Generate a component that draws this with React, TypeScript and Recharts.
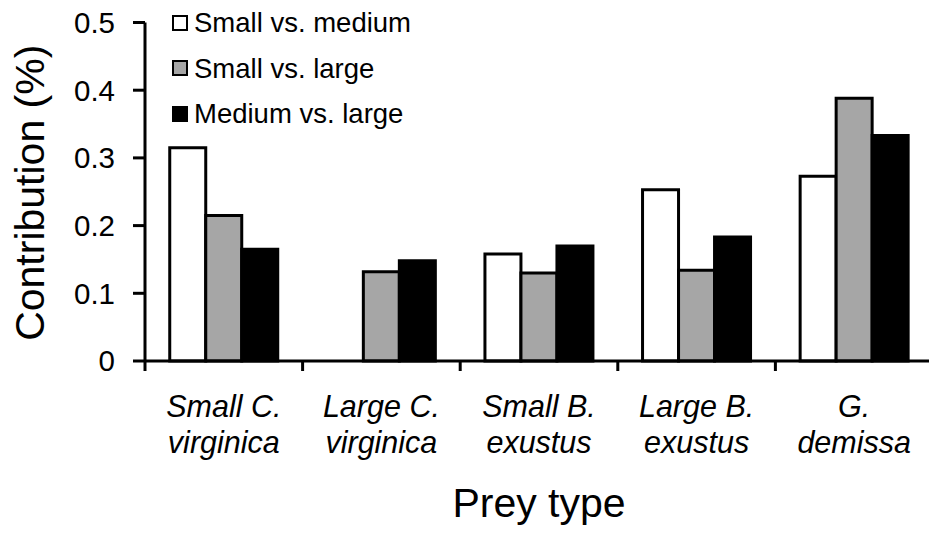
import React from "react";
import { BarChart, Bar, XAxis, YAxis, Legend, Label } from "recharts";

// Prey categories (line break marks the two-line tick label)
const preyTypes = [
  "Small C.\nvirginica",
  "Large C.\nvirginica",
  "Small B.\nexustus",
  "Large B.\nexustus",
  "G.\ndemissa",
];

const smallVsMedium = [0.315, null, 0.158, 0.253, 0.273];
const smallVsLarge = [0.215, 0.132, 0.13, 0.134, 0.388];
const mediumVsLarge = [0.165, 0.148, 0.17, 0.183, 0.333];

const yTicks = [0, 0.1, 0.2, 0.3, 0.4, 0.5];

const series = [
  { key: "sm", name: "Small vs. medium", fill: "#ffffff" },
  { key: "sl", name: "Small vs. large", fill: "#a6a6a6" },
  { key: "ml", name: "Medium vs. large", fill: "#000000" },
];

const data = preyTypes.map((prey, i) => ({
  prey,
  sm: smallVsMedium[i],
  sl: smallVsLarge[i],
  ml: mediumVsLarge[i],
}));

const FONT = '"Liberation Sans", Arial, sans-serif';
const WIDTH = 933;
const HEIGHT = 535;
const Y_AXIS_W = 145;
const X_AXIS_H = 174;
const TOP = 22.5;
const PLOT_W = WIDTH - Y_AXIS_W;
const BAND = PLOT_W / preyTypes.length;

// Category label in two lines, plus tick marks on the category boundaries
function PreyTick(props: any) {
  const { x, y, payload, index } = props;
  const lines = String(payload.value).split("\n");
  const left = x - BAND / 2;
  const right = x + BAND / 2;
  return (
    <g>
      <line x1={left} x2={left} y1={y} y2={y + 10} stroke="#000" strokeWidth={3} />
      {index === preyTypes.length - 1 && (
        <line x1={right} x2={right} y1={y} y2={y + 10} stroke="#000" strokeWidth={3} />
      )}
      <text
        x={x}
        y={y}
        textAnchor="middle"
        fill="#000"
        fontSize={30.5}
        fontStyle="italic"
        fontFamily={FONT}
      >
        {lines.map((ln, i) => (
          <tspan key={i} x={x} dy={i === 0 ? 56 : 36}>
            {ln}
          </tspan>
        ))}
      </text>
    </g>
  );
}

function YTitle(props: any) {
  const { viewBox } = props;
  const cy = viewBox.y + viewBox.height / 2 + 1;
  return (
    <text
      x={30}
      y={cy}
      transform={`rotate(-90 30 ${cy})`}
      textAnchor="middle"
      dominantBaseline="central"
      fontSize={41}
      fontFamily={FONT}
      fill="#000"
    >
      Contribution (%)
    </text>
  );
}

function XTitle(props: any) {
  const { viewBox } = props;
  return (
    <text
      x={viewBox.x + viewBox.width / 2}
      y={517}
      textAnchor="middle"
      fontSize={41}
      fontFamily={FONT}
      fill="#000"
    >
      Prey type
    </text>
  );
}

function LegendBox() {
  return (
    <div style={{ fontFamily: FONT }}>
      {series.map((s) => (
        <div
          key={s.key}
          style={{ display: "flex", alignItems: "center", height: 45.5 }}
        >
          <div
            style={{
              width: 16,
              height: 16,
              boxSizing: "border-box",
              border: "2.5px solid #000",
              background: s.fill,
            }}
          />
          <span style={{ marginLeft: 6, fontSize: 27.5, color: "#000", lineHeight: 1 }}>
            {s.name}
          </span>
        </div>
      ))}
    </div>
  );
}

export default function App() {
  return (
    <div
      style={{
        position: "absolute",
        left: 0,
        top: 0,
        width: 929,
        height: 535,
        overflow: "hidden",
        background: "#fff",
        fontFamily: FONT,
      }}
    >
      <BarChart
        width={WIDTH}
        height={HEIGHT}
        data={data}
        margin={{ top: TOP, right: 0, left: 0, bottom: 0 }}
        barCategoryGap="15.7%"
        barGap={0}
      >
        <XAxis
          dataKey="prey"
          height={X_AXIS_H}
          tickLine={false}
          tickSize={0}
          tickMargin={0}
          interval={0}
          axisLine={{ stroke: "#000", strokeWidth: 3 }}
          tick={<PreyTick />}
        >
          <Label content={<XTitle />} />
        </XAxis>
        <YAxis
          width={Y_AXIS_W}
          domain={[0, 0.5]}
          ticks={yTicks}
          interval={0}
          tickSize={12}
          tickMargin={18}
          axisLine={{ stroke: "#000", strokeWidth: 3 }}
          tickLine={{ stroke: "#000", strokeWidth: 3 }}
          tick={{ fill: "#000", fontSize: 29.5, fontFamily: FONT }}
        >
          <Label content={<YTitle />} />
        </YAxis>
        <Legend
          layout="horizontal"
          verticalAlign="middle"
          align="center"
          content={<LegendBox />}
          wrapperStyle={{ left: 172, top: 0, width: 300, height: 140 }}
        />
        {series.map((s) => (
          <Bar
            key={s.key}
            dataKey={s.key}
            name={s.name}
            fill={s.fill}
            stroke="#000"
            strokeWidth={3}
            isAnimationActive={false}
          />
        ))}
      </BarChart>
    </div>
  );
}
